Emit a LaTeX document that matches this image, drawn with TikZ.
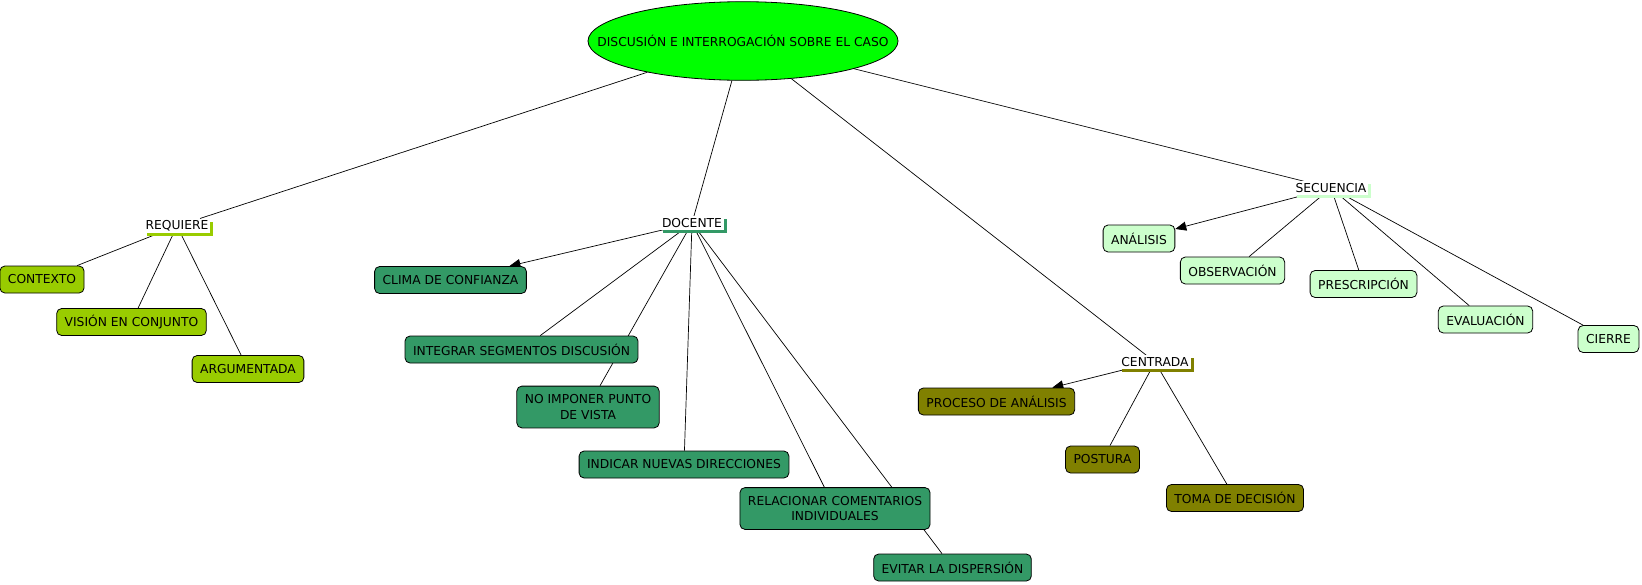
\documentclass[tikz,border=0pt]{standalone}
\usepackage{fontspec}
\setmainfont{DejaVu Sans}
\usepackage{tikz}
\usetikzlibrary{arrows.meta,shadows,backgrounds,shapes.geometric}
\definecolor{verdecaso}{HTML}{00FF00}
\definecolor{verderequiere}{HTML}{99CC00}
\definecolor{verdedocente}{HTML}{339966}
\definecolor{verdesecuencia}{HTML}{CCFFCC}
\definecolor{olivacentrada}{HTML}{808000}

\begin{document}
\begin{tikzpicture}[x=1pt,y=-1pt,every node/.style={font=\fontsize{12.3}{15.5}\selectfont,text=black,align=center},
  concepto/.style={draw=black,line width=0.8pt,rounded corners=5pt,inner xsep=8pt,inner ysep=5pt,minimum height=27pt},
  dosfilas/.style={inner ysep=8.5pt},
  enlace/.style={fill=white,inner xsep=2pt,inner ysep=2pt,drop shadow={shadow xshift=3pt,shadow yshift=-3pt,fill=#1,opacity=1}},
  linea/.style={draw=black,line width=0.7pt},
  flecha/.style={linea,-{Triangle[length=11pt,width=9pt]}}]
\useasboundingbox (0,0) rectangle (1642,584);
% tema central
\node [ellipse,draw=black,line width=0.8pt,fill=verdecaso,inner xsep=-36pt,inner ysep=22pt] (caso) at (743,41) {DISCUSIÓN E INTERROGACIÓN SOBRE EL CASO};
% requiere
\node [enlace=verderequiere] (requiere) at (177,226) {REQUIERE};
\node [concepto,fill=verderequiere] (contexto) at (42,279.5) {CONTEXTO};
\node [concepto,fill=verderequiere] (vision) at (131.5,322) {VISIÓN EN CONJUNTO};
\node [concepto,fill=verderequiere] (argumentada) at (248,369) {ARGUMENTADA};
% docente
\node [enlace=verdedocente] (docente) at (692,223) {DOCENTE};
\node [concepto,fill=verdedocente] (clima) at (450.5,280) {CLIMA DE CONFIANZA};
\node [concepto,fill=verdedocente] (integrar) at (521.5,349.5) {INTEGRAR SEGMENTOS DISCUSIÓN};
\node [concepto,dosfilas,fill=verdedocente] (noimponer) at (588,407) {NO IMPONER PUNTO\\DE VISTA};
\node [concepto,fill=verdedocente] (indicar) at (684,464.5) {INDICAR NUEVAS DIRECCIONES};
\node [concepto,dosfilas,fill=verdedocente] (relacionar) at (835,508.5) {RELACIONAR COMENTARIOS\\INDIVIDUALES};
\node [concepto,fill=verdedocente] (evitar) at (952.5,567.5) {EVITAR LA DISPERSIÓN};
% centrada
\node [enlace=olivacentrada] (centrada) at (1155,362) {CENTRADA};
\node [concepto,fill=olivacentrada] (proceso) at (996.5,401.5) {PROCESO DE ANÁLISIS};
\node [concepto,fill=olivacentrada] (postura) at (1102.5,459.5) {POSTURA};
\node [concepto,fill=olivacentrada] (toma) at (1235,498) {TOMA DE DECISIÓN};
% secuencia
\node [enlace=verdesecuencia] (secuencia) at (1331,188) {SECUENCIA};
\node [concepto,fill=verdesecuencia] (analisis) at (1139,238.5) {ANÁLISIS};
\node [concepto,fill=verdesecuencia] (observacion) at (1232.5,270.5) {OBSERVACIÓN};
\node [concepto,fill=verdesecuencia] (prescripcion) at (1363.5,284) {PRESCRIPCIÓN};
\node [concepto,fill=verdesecuencia] (evaluacion) at (1485.5,319.5) {EVALUACIÓN};
\node [concepto,fill=verdesecuencia] (cierre) at (1608.5,339) {CIERRE};
% conectores
\begin{pgfonlayer}{background}
\foreach \b in {requiere,docente,centrada,secuencia} \draw [linea] (caso) -- (\b);
\foreach \b in {contexto,vision,argumentada} \draw [linea] (requiere) -- (\b);
\draw [flecha] (docente) -- (clima);
\foreach \b in {integrar,noimponer,indicar,relacionar,evitar} \draw [linea] (docente) -- (\b);
\draw [flecha] (centrada) -- (proceso);
\foreach \b in {postura,toma} \draw [linea] (centrada) -- (\b);
\draw [flecha] (secuencia) -- (analisis);
\foreach \b in {observacion,prescripcion,evaluacion,cierre} \draw [linea] (secuencia) -- (\b);
\end{pgfonlayer}
\end{tikzpicture}
\end{document}
